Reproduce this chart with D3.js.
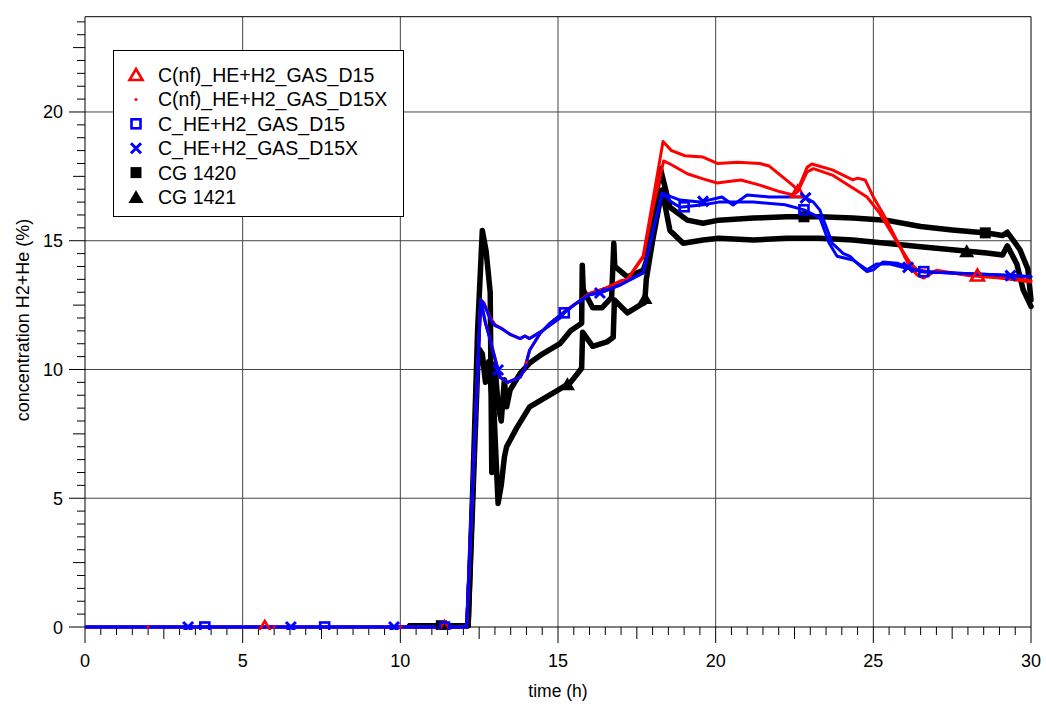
<!DOCTYPE html>
<html><head><meta charset="utf-8">
<script src="https://cdn.jsdelivr.net/npm/d3@7"></script>
<style>body{margin:0;background:#fff}svg{display:block}text{font-family:"Liberation Sans",Arial,sans-serif;fill:#000}</style>
</head><body><svg id="c" width="1046" height="711"></svg>
<script>
// ---- data (time h, concentration %) ----
const seriesNames = ["C(nf)_HE+H2_GAS_D15","C(nf)_HE+H2_GAS_D15X","C_HE+H2_GAS_D15","C_HE+H2_GAS_D15X","CG 1420","CG 1421"];
const redD15 = [[0,0],[12.1,0],[12.55,12.7],[12.65,12.6],[12.85,12.0],[13.0,11.75],[13.2,11.6],[13.5,11.35],[13.8,11.2],[13.95,11.3],[14.1,11.2],[14.5,11.5],[15.06,12.0],[15.2,12.2],[15.5,12.5],[16.0,12.95],[16.5,13.15],[17.0,13.4],[17.2,13.5],[17.7,14.35],[18.0,16.2],[18.35,18.1],[18.6,17.95],[19.1,17.6],[19.6,17.4],[20.05,17.24],[20.4,17.3],[20.8,17.36],[21.4,17.16],[22.05,16.9],[22.45,16.78],[22.6,16.9],[22.9,17.67],[23.1,17.8],[23.7,17.55],[24.35,17.05],[24.8,16.7],[25.2,16.07],[25.75,14.95],[26.17,14.13],[26.4,13.87],[26.8,13.8],[27.5,13.75],[28.3,13.65],[29.5,13.55],[30,13.45]];
const redD15X = [[0,0],[12.1,0],[12.55,12.7],[12.7,11.8],[12.85,11.15],[13.16,9.7],[13.4,9.5],[13.8,9.7],[13.95,10.05],[14.1,10.75],[14.43,11.4],[14.75,11.8],[15.06,12.1],[15.2,12.25],[15.5,12.5],[16.0,12.95],[16.5,13.15],[17.0,13.45],[17.2,13.5],[17.7,14.4],[18.0,16.5],[18.33,18.85],[18.6,18.5],[19.03,18.3],[19.6,18.25],[20.05,18.0],[20.7,18.05],[21.4,18.0],[21.7,17.9],[22.1,17.5],[22.45,17.15],[22.6,16.97],[22.9,17.85],[23.05,17.98],[23.7,17.75],[24.35,17.36],[24.5,17.43],[24.74,17.36],[25.0,16.7],[25.3,16.07],[25.75,15.0],[26.15,14.0],[26.4,13.66],[26.6,13.55],[27.0,13.85],[28.0,13.65],[29.0,13.55],[30,13.4]];
const blueD15 = [[0,0],[12.1,0],[12.55,12.7],[12.65,12.55],[12.85,11.95],[13.0,11.7],[13.2,11.6],[13.5,11.35],[13.8,11.2],[13.95,11.3],[14.1,11.2],[14.5,11.5],[15.06,12.0],[15.2,12.2],[15.5,12.5],[16.0,12.9],[16.5,13.05],[17.0,13.3],[17.7,13.75],[18.0,15.3],[18.3,16.85],[18.6,16.5],[18.87,16.3],[19.6,16.4],[20.1,16.5],[21.2,16.5],[22.2,16.4],[22.8,16.2],[23.3,15.9],[23.6,14.9],[23.85,14.4],[24.35,14.25],[24.8,13.87],[25.1,14.1],[25.5,14.1],[26.0,13.95],[26.6,13.8],[27.5,13.75],[28.5,13.7],[29.5,13.65],[30,13.6]];
const blueD15X = [[0,0],[12.1,0],[12.55,12.7],[12.7,11.8],[12.85,11.15],[13.16,9.7],[13.4,9.5],[13.8,9.7],[13.95,10.05],[14.1,10.75],[14.43,11.4],[14.75,11.8],[15.06,12.1],[15.5,12.5],[16.0,12.9],[16.33,12.97],[16.5,13.05],[17.0,13.3],[17.7,13.75],[18.0,15.3],[18.3,16.85],[18.6,16.7],[18.87,16.58],[19.5,16.5],[20.2,16.7],[20.55,16.39],[21.0,16.78],[21.7,16.7],[22.8,16.7],[23.1,16.5],[23.3,16.2],[23.5,15.55],[23.7,14.9],[24.05,14.5],[24.25,14.4],[24.6,14.0],[24.8,13.8],[25.0,13.87],[25.3,14.17],[25.75,14.13],[26.07,13.98],[26.5,13.8],[27.5,13.75],[28.5,13.7],[29.3,13.65],[30,13.6]];
const cg1420 = [[10.3,0.05],[12.15,0.05],[12.3,5.0],[12.45,10.0],[12.5,10.8],[12.6,10.6],[12.7,9.5],[12.8,10.3],[12.9,9.0],[13.0,10.2],[13.1,8.6],[13.2,8.0],[13.3,9.6],[13.37,8.55],[13.48,9.2],[13.8,9.85],[14.1,10.25],[14.5,10.6],[15.06,11.0],[15.4,11.5],[15.75,11.8],[15.77,14.05],[15.8,13.1],[16.1,12.4],[16.4,12.4],[16.7,12.8],[16.77,14.9],[16.8,14.0],[17.2,13.6],[17.7,13.85],[17.8,14.2],[18.0,16.0],[18.25,17.8],[18.55,16.3],[19.1,15.8],[19.6,15.68],[20.1,15.8],[21.2,15.88],[22.25,15.93],[23.3,15.93],[24.35,15.88],[25.4,15.8],[26.5,15.55],[27.5,15.42],[28.6,15.3],[29.1,15.2],[29.25,15.33],[29.65,14.65],[29.9,13.9],[30,12.7]];
const cg1421 = [[10.3,0.05],[12.15,0.05],[12.3,5.5],[12.45,11.5],[12.6,15.4],[12.72,14.6],[12.85,13.0],[12.9,6.0],[12.95,9.0],[13.0,7.5],[13.1,4.8],[13.2,5.5],[13.3,6.6],[13.37,7.0],[13.7,7.75],[14.1,8.55],[14.65,8.95],[15.0,9.2],[15.4,9.5],[15.75,10.05],[15.78,11.45],[16.1,10.9],[16.55,11.07],[16.75,11.25],[16.79,12.7],[17.2,12.2],[17.6,12.5],[17.75,12.6],[17.8,13.5],[18.0,15.0],[18.3,16.97],[18.55,15.4],[18.97,14.9],[19.6,15.03],[20.1,15.1],[21.2,15.03],[22.25,15.1],[23.3,15.1],[24.35,15.03],[25.4,14.9],[26.5,14.77],[27.5,14.65],[28.6,14.52],[29.1,14.45],[29.25,14.8],[29.55,14.1],[29.75,13.1],[30,12.45]];
// marker times
const redD15Marks = [5.7,11.4,22.6,28.3];
const redD15XMarks = [2.0,6.0,10.0,14.0,18.0,22.0,26.0];
const blueD15Marks = [3.8,7.6,11.4,15.2,19.0,22.8,26.6];
const blueD15XMarks = [3.27,6.53,9.8,13.1,16.33,19.6,22.85,26.1,29.35];
const cg1420Marks = [11.3,22.8,28.55];
const cg1421Marks = [15.3,17.76,27.96];
const xTicks = [0,5,10,15,20,25,30];
const yTicks = [0,5,10,15,20];

// ---- layout ----
const svg = d3.select("#c");
const x = d3.scaleLinear().domain([0,30]).range([85,1031]);
const y = d3.scaleLinear().domain([0,23.7]).range([627,16.7]);

// grid
const g = svg.append("g");
g.selectAll(".vg").data(xTicks.slice(1)).join("line")
 .attr("x1",d=>x(d)).attr("x2",d=>x(d)).attr("y1",y(0)).attr("y2",y(23.7))
 .attr("stroke",d=>d===30?"#000":"#444").attr("stroke-width",1);
g.selectAll(".hg").data(yTicks.slice(1)).join("line")
 .attr("x1",x(0)).attr("x2",x(30)).attr("y1",d=>y(d)).attr("y2",d=>y(d))
 .attr("stroke","#444").attr("stroke-width",1);
g.append("line").attr("x1",x(0)).attr("x2",x(30)).attr("y1",y(23.7)).attr("y2",y(23.7)).attr("stroke","#000");

// axes with minor ticks
const xMinor = d3.range(0,30.01,0.5);
const yMinor = d3.range(0,23.71,0.5);
function tlen(v){ if (Math.abs(v%5)<1e-6) return 16; if (Math.abs(v%2.5)<1e-6) return 12; return 8; }
const ax = svg.append("g");
ax.selectAll(".xt").data(xMinor).join("line")
 .attr("x1",d=>x(d)).attr("x2",d=>x(d)).attr("y1",y(0)).attr("y2",d=>y(0)+tlen(d)).attr("stroke","#000");
ax.selectAll(".yt").data(yMinor).join("line")
 .attr("y1",d=>y(d)).attr("y2",d=>y(d)).attr("x1",x(0)).attr("x2",d=>x(0)-tlen(d)).attr("stroke","#000");
ax.append("line").attr("x1",x(0)).attr("x2",x(30)).attr("y1",y(0)).attr("y2",y(0)).attr("stroke","#000");
ax.append("line").attr("x1",x(0)).attr("x2",x(0)).attr("y1",y(0)).attr("y2",y(23.7)).attr("stroke","#000");
ax.selectAll(".xl").data(xTicks).join("text")
 .attr("x",d=>x(d)).attr("y",667).attr("text-anchor","middle").attr("font-size",18).text(d=>d);
ax.selectAll(".yl").data(yTicks).join("text")
 .attr("x",63).attr("y",d=>y(d)+6.5).attr("text-anchor","end").attr("font-size",18).text(d=>d);
ax.append("text").attr("x",558).attr("y",697).attr("text-anchor","middle").attr("font-size",17.5).text("time (h)");
ax.append("text").attr("transform","translate(29,320) rotate(-90)").attr("text-anchor","middle").attr("font-size",18).text("concentration H2+He (%)");

// curves
const line = d3.line().x(d=>x(d[0])).y(d=>y(d[1]));
svg.append("clipPath").attr("id","pc").append("rect").attr("x",x(0)).attr("y",y(23.7)).attr("width",x(30)-x(0)+3).attr("height",y(0)-y(23.7)+3);
const plot = svg.append("g").attr("clip-path","url(#pc)");
function interp(data,t){ const bis=d3.bisector(d=>d[0]).left; let i=bis(data,t); if(i<=0) return data[0][1]; if(i>=data.length) return data[data.length-1][1]; const a=data[i-1],b=data[i]; return a[1]+(b[1]-a[1])*(t-a[0])/(b[0]-a[0]); }
function marker(sel,type,color){
  if(type==="tri") sel.append("path").attr("d","M0,-6L6.5,5L-6.5,5Z").attr("fill","none").attr("stroke",color).attr("stroke-width",2.6);
  else if(type==="dot") sel.append("circle").attr("r",1.5).attr("fill",color);
  else if(type==="sq") sel.append("rect").attr("x",-4.5).attr("y",-4.5).attr("width",9).attr("height",9).attr("fill","none").attr("stroke",color).attr("stroke-width",2.6);
  else if(type==="x") sel.append("path").attr("d","M-5,-5L5,5M-5,5L5,-5").attr("stroke",color).attr("stroke-width",3);
  else if(type==="fsq") sel.append("rect").attr("x",-5.5).attr("y",-5.5).attr("width",11).attr("height",11).attr("fill",color);
  else if(type==="ftri") sel.append("path").attr("d","M0,-7L7.5,6L-7.5,6Z").attr("fill",color);
}
const series = [
  {name:seriesNames[4],data:cg1420,marks:cg1420Marks,color:"#000",w:5.5,m:"fsq"},
  {name:seriesNames[5],data:cg1421,marks:cg1421Marks,color:"#000",w:5.5,m:"ftri"},
  {name:seriesNames[0],data:redD15,marks:redD15Marks,color:"#ff0000",w:3,m:"tri"},
  {name:seriesNames[1],data:redD15X,marks:redD15XMarks,color:"#ff0000",w:3,m:"dot"},
  {name:seriesNames[2],data:blueD15,marks:blueD15Marks,color:"#0000ff",w:3,m:"sq"},
  {name:seriesNames[3],data:blueD15X,marks:blueD15XMarks,color:"#0000ff",w:3,m:"x"}
];
series.forEach(s=>{
  plot.append("path").datum(s.data).attr("d",line).attr("fill","none").attr("stroke",s.color)
    .attr("stroke-width",s.w).attr("stroke-linejoin","round").attr("stroke-linecap","round");
});
series.forEach(s=>{
  s.marks.forEach(t=>{
    const gg = plot.append("g").attr("transform",`translate(${x(t)},${y(interp(s.data,t))})`);
    marker(gg,s.m,s.color);
  });
});

// legend
const lg = svg.append("g");
lg.append("rect").attr("x",113.5).attr("y",50.5).attr("width",290).attr("height",166).attr("fill","#fff").attr("stroke","#000");
const legOrder = [
  {n:seriesNames[0],m:"tri",c:"#ff0000"},{n:seriesNames[1],m:"dot",c:"#ff0000"},
  {n:seriesNames[2],m:"sq",c:"#0000ff"},{n:seriesNames[3],m:"x",c:"#0000ff"},
  {n:seriesNames[4],m:"fsq",c:"#000"},{n:seriesNames[5],m:"ftri",c:"#000"}];
legOrder.forEach((d,i)=>{
  const yy = 75 + i*24.4;
  const gg = lg.append("g").attr("transform",`translate(136,${yy})`);
  marker(gg,d.m,d.c);
  lg.append("text").attr("x",158).attr("y",yy+7).attr("font-size",19.5).text(d.n);
});
</script></body></html>
